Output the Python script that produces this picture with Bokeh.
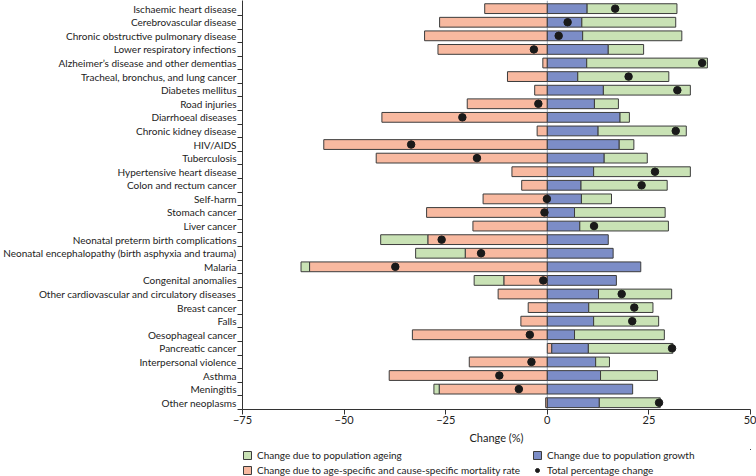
from bokeh.plotting import figure
from bokeh.layouts import column
from bokeh.models import (ColumnDataSource, Range1d, FixedTicker, Legend, LegendItem, Span)
from bokeh.embed import file_html
from bokeh.resources import INLINE

categories = [
    "Ischaemic heart disease", "Cerebrovascular disease", "Chronic obstructive pulmonary disease",
    "Lower respiratory infections", "Alzheimer\u2019s disease and other dementias",
    "Tracheal, bronchus, and lung cancer", "Diabetes mellitus", "Road injuries",
    "Diarrhoeal diseases", "Chronic kidney disease", "HIV/AIDS", "Tuberculosis",
    "Hypertensive heart disease", "Colon and rectum cancer", "Self-harm", "Stomach cancer",
    "Liver cancer", "Neonatal preterm birth complications",
    "Neonatal encephalopathy (birth asphyxia and trauma)", "Malaria", "Congenital anomalies",
    "Other cardiovascular and circulatory diseases", "Breast cancer", "Falls",
    "Oesophageal cancer", "Pancreatic cancer", "Interpersonal violence", "Asthma",
    "Meningitis", "Other neoplasms",
]
growth = [9.8, 8.5, 8.7, 15.0, 9.7, 7.5, 13.8, 11.6, 17.9, 12.5, 17.7, 14.0,
          11.4, 8.3, 8.4, 6.7, 8.0, 15.0, 16.2, 23.0, 17.0, 12.6, 10.2, 11.4,
          6.7, 9.0, 11.9, 13.1, 21.0, 12.8]
ageing = [22.1, 23.1, 24.4, 8.7, 29.7, 22.4, 21.4, 5.9, 2.3, 21.7, 3.6, 10.6,
          23.8, 21.2, 7.4, 22.3, 21.8, -11.6, -12.2, -2.1, -7.3, 18.0, 15.8, 16.0,
          22.1, 20.8, 3.4, 14.0, -1.3, 15.0]
mortality = [-15.4, -26.5, -30.2, -26.9, -1.1, -9.8, -3.1, -19.7, -40.7, -2.5, -55.0, -42.1,
             -8.7, -6.3, -15.8, -29.7, -18.3, -29.4, -20.2, -58.5, -10.7, -12.1, -4.7, -6.5,
             -33.2, 1.1, -19.2, -38.9, -26.6, -0.4]
total = [16.7, 5.0, 2.8, -3.3, 38.1, 20.0, 32.0, -2.2, -20.9, 31.6, -33.5, -17.3,
         26.5, 23.2, -0.1, -0.7, 11.5, -26.0, -16.3, -37.4, -1.0, 18.3, 21.4, 20.9,
         -4.3, 30.7, -3.9, -11.8, -7.0, 27.5]
x_ticks = [-75, -50, -25, 0, 25, 50]
legend_labels = [
    "Change due to population ageing",
    "Change due to age-specific and cause-specific mortality rate",
    "Change due to population growth",
    "Total percentage change",
]

FONT = "Lato"
C_MORT = "#F8B9A0"
C_GROW = "#7C8DC7"
C_AGE = "#C9E2B5"
EDGE = "#3c3c3c"
DOT = "#1a1a1a"
LEFT = 238
W = 756

idx = list(range(len(categories)))
m_left, m_right, g_left, g_right, a_left, a_right = [], [], [], [], [], []
for m, g, a in zip(mortality, growth, ageing):
    ml, mr = (m, 0) if m < 0 else (0, m)
    gl = max(m, 0)
    gr = gl + g
    if a >= 0:
        al, ar = gr, gr + a
    else:
        base = min(m, 0)
        al, ar = base + a, base
    m_left.append(ml); m_right.append(mr)
    g_left.append(gl); g_right.append(gr)
    a_left.append(al); a_right.append(ar)

src = ColumnDataSource(dict(y=idx, ml=m_left, mr=m_right, gl=g_left, gr=g_right,
                            al=a_left, ar=a_right, total=total))

p = figure(width=W, height=446, output_backend="svg", toolbar_location=None,
           x_range=Range1d(-75, 50), y_range=Range1d(29.5, -0.6),
           min_border_left=LEFT, min_border_right=6, min_border_top=0, min_border_bottom=0)
p.outline_line_color = None
p.xgrid.visible = False
p.ygrid.visible = False

p.add_layout(Span(location=0, dimension="height", line_color="#9ea8b8", line_width=1,
                  level="underlay"))

H = 0.72
p.hbar(y="y", left="ml", right="mr", height=H, source=src, fill_color=C_MORT,
       line_color=EDGE, line_width=1)
p.hbar(y="y", left="gl", right="gr", height=H, source=src, fill_color=C_GROW,
       line_color=EDGE, line_width=1)
p.hbar(y="y", left="al", right="ar", height=H, source=src, fill_color=C_AGE,
       line_color=EDGE, line_width=1)
p.scatter(x="total", y="y", source=src, size=7.5, marker="circle",
          fill_color=DOT, line_color=DOT)

# y axis
yax = p.yaxis[0]
yax.ticker = FixedTicker(ticks=idx, minor_ticks=[i + 0.5 for i in idx])
yax.major_label_overrides = {i: c for i, c in zip(idx, categories)}
yax.major_tick_out = 0
yax.major_tick_in = 0
yax.minor_tick_out = 5
yax.minor_tick_in = 0
yax.minor_tick_line_color = "#333333"
yax.axis_line_color = "#333333"
yax.major_label_text_font = FONT
yax.major_label_text_font_size = "10px"
yax.major_label_text_color = "#222222"
yax.major_label_standoff = 1

# x axis
xax = p.xaxis[0]
xax.ticker = FixedTicker(ticks=x_ticks, minor_ticks=[])
xax.major_label_overrides = {t: (str(t).replace("-", "\u2212")) for t in x_ticks}
xax.major_tick_out = 5
xax.major_tick_in = 0
xax.major_tick_line_color = "#333333"
xax.axis_line_color = "#333333"
xax.major_label_text_font = FONT
xax.major_label_text_font_size = "11px"
xax.major_label_text_color = "#222222"
xax.major_label_standoff = 1
xax.axis_label = "Change (%)"
xax.axis_label_text_font = FONT
xax.axis_label_text_font_size = "11px"
xax.axis_label_text_font_style = "normal"
xax.axis_label_text_color = "#222222"
xax.axis_label_standoff = 4

# legend figure (its renderers reuse the chart data but lie outside its ranges)
q = figure(width=W, height=30, output_backend="svg", toolbar_location=None,
           x_axis_type=None, y_axis_type=None, x_range=Range1d(-200, -199),
           y_range=Range1d(-200, -199),
           min_border_left=LEFT, min_border_right=6, min_border_top=3, min_border_bottom=0)
q.outline_line_color = None
q.xgrid.visible = False
q.ygrid.visible = False
l_a = q.hbar(y="y", left="al", right="ar", height=H, source=src, fill_color=C_AGE,
             line_color=EDGE, line_width=1)
l_m = q.hbar(y="y", left="ml", right="mr", height=H, source=src, fill_color=C_MORT,
             line_color=EDGE, line_width=1)
l_g = q.hbar(y="y", left="gl", right="gr", height=H, source=src, fill_color=C_GROW,
             line_color=EDGE, line_width=1)
l_t = q.scatter(x="total", y="y", source=src, size=7.5, marker="circle",
                fill_color=DOT, line_color=DOT)


def make_legend(labels, renderers, location):
    lg = Legend(items=[LegendItem(label=lab, renderers=[r]) for lab, r in zip(labels, renderers)],
                location=location)
    lg.border_line_color = None
    lg.background_fill_alpha = 0
    lg.label_text_font = FONT
    lg.label_text_font_size = "10px"
    lg.label_text_color = "#222222"
    lg.glyph_width = 10
    lg.glyph_height = 10
    lg.label_height = 12
    lg.label_standoff = 5
    lg.spacing = 3
    lg.padding = 0
    lg.margin = 0
    return lg


q.add_layout(make_legend(legend_labels[:2], [l_a, l_m], (0, 0)), "center")
q.add_layout(make_legend(legend_labels[2:], [l_g, l_t], (290, 0)), "center")

open("out.html", "w").write(file_html(column(p, q, spacing=0), INLINE))
